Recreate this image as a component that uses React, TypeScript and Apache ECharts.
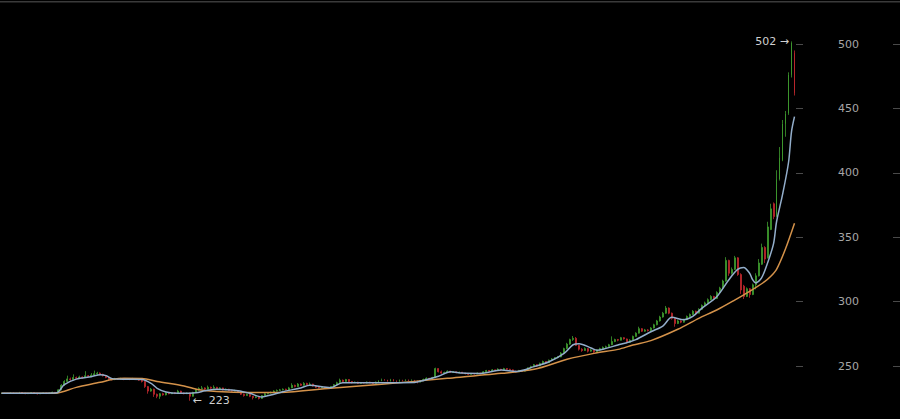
import React, { useEffect, useRef } from "react";
import * as echarts from "echarts";

// [open, close, low, high] per candle
const ohlc: number[][] = [
  [228.7, 229.0, 228.4, 229.3], [229.0, 228.6, 228.3, 229.2], [228.6, 228.8, 228.4, 229.1], [228.8, 229.2, 228.6, 229.6],
  [229.2, 228.7, 228.5, 229.4], [228.7, 228.9, 228.5, 229.2], [228.9, 229.4, 228.7, 229.9], [229.4, 229.0, 228.8, 229.6],
  [229.0, 228.5, 228.1, 229.2], [228.5, 228.8, 228.3, 229.0], [228.8, 229.3, 228.6, 229.6], [229.3, 228.9, 228.6, 229.5],
  [228.9, 228.4, 227.9, 229.0], [228.4, 228.8, 228.2, 229.0], [228.8, 229.1, 228.6, 229.4], [229.1, 228.6, 228.4, 229.3],
  [228.6, 229.0, 228.4, 229.3], [229.0, 229.6, 228.8, 230.1], [229.6, 229.2, 228.9, 229.8],
  [229.2, 231.5, 229.0, 232.0], [231.5, 235.0, 231.2, 236.0], [235.0, 238.0, 234.5, 239.0], [238.0, 240.0, 237.5, 242.5],
  [240.0, 239.5, 238.5, 241.0], [239.5, 241.0, 239.0, 243.5], [241.0, 240.5, 239.8, 241.8], [240.5, 241.5, 240.0, 242.5],
  [241.5, 241.0, 240.2, 242.0], [241.0, 242.5, 240.6, 246.0], [242.5, 242.0, 241.2, 243.0], [242.0, 243.0, 241.5, 244.5],
  [243.0, 244.0, 242.5, 246.4], [244.0, 244.5, 243.2, 245.5], [244.5, 243.5, 242.8, 245.0],
  [243.5, 242.5, 241.8, 244.0], [242.5, 241.0, 240.5, 243.0], [241.0, 240.0, 239.2, 241.5], [240.0, 239.5, 238.8, 240.6],
  [239.5, 240.0, 239.0, 240.8], [240.0, 239.8, 239.2, 240.5], [239.8, 240.2, 239.4, 240.9], [240.2, 239.5, 239.0, 240.6],
  [239.5, 240.0, 239.2, 240.5], [240.0, 239.6, 239.0, 240.4], [239.6, 240.3, 239.3, 240.8], [240.3, 239.8, 239.4, 240.6],
  [239.8, 239.0, 238.5, 240.2], [239.0, 238.0, 237.2, 239.4],
  [238.0, 234.0, 233.0, 238.4], [234.0, 230.5, 228.5, 234.5], [230.5, 232.0, 230.0, 233.0], [232.0, 228.0, 226.0, 232.4],
  [228.0, 226.5, 225.0, 228.6], [226.5, 228.5, 224.5, 229.0], [228.5, 227.5, 227.0, 229.2], [227.5, 229.0, 227.2, 229.6],
  [229.0, 228.5, 228.0, 229.4],
  [228.5, 229.2, 228.2, 229.6], [229.2, 228.6, 228.2, 229.5], [228.6, 230.5, 228.4, 231.5], [230.5, 229.0, 228.6, 230.8],
  [229.0, 228.5, 228.0, 229.4], [228.5, 229.0, 228.2, 229.5], [229.0, 226.5, 223.0, 229.3],
  [226.5, 229.5, 226.2, 230.0], [229.5, 231.5, 229.2, 232.2], [231.5, 232.5, 231.0, 233.5], [232.5, 233.0, 232.0, 234.5],
  [233.0, 232.0, 231.5, 233.5], [232.0, 233.5, 231.8, 234.8], [233.5, 232.8, 232.2, 234.0], [232.8, 233.5, 232.5, 235.0],
  [233.5, 232.5, 232.0, 233.8], [232.5, 233.0, 232.2, 233.6], [233.0, 231.5, 231.0, 233.2], [231.5, 232.0, 231.2, 232.6],
  [232.0, 231.0, 230.5, 232.3], [231.0, 230.5, 230.0, 231.5], [230.5, 231.0, 230.2, 231.6],
  [231.0, 229.5, 229.0, 231.3], [229.5, 228.0, 227.5, 229.8], [228.0, 227.0, 226.2, 228.5], [227.0, 228.0, 226.8, 228.6],
  [228.0, 226.5, 225.8, 228.3], [226.5, 225.5, 224.0, 226.8], [225.5, 226.0, 225.0, 226.6], [226.0, 224.8, 224.0, 226.2],
  [224.8, 227.0, 224.4, 227.5], [227.0, 228.5, 226.8, 229.0],
  [228.5, 229.0, 228.0, 229.6], [229.0, 229.5, 228.7, 230.2], [229.5, 230.5, 229.2, 231.2], [230.5, 231.0, 230.2, 231.8],
  [231.0, 231.5, 230.8, 232.2], [231.5, 232.0, 231.0, 232.6], [232.0, 231.5, 231.0, 232.4], [231.5, 233.0, 231.2, 233.8],
  [233.0, 235.0, 232.8, 236.6], [235.0, 234.0, 233.5, 235.5], [234.0, 236.0, 233.8, 236.8], [236.0, 235.0, 234.5, 236.5],
  [235.0, 236.5, 234.8, 237.5], [236.5, 235.5, 235.0, 237.0], [235.5, 236.0, 235.0, 237.2], [236.0, 234.5, 234.0, 236.2],
  [234.5, 233.5, 233.0, 234.8], [233.5, 233.0, 232.5, 233.8], [233.0, 233.5, 232.8, 234.0], [233.5, 232.8, 232.4, 233.8],
  [232.8, 233.2, 232.5, 233.7], [233.2, 234.0, 233.0, 234.5],
  [234.0, 235.5, 233.8, 236.0], [235.5, 237.0, 235.2, 237.8], [237.0, 239.0, 236.8, 240.2], [239.0, 238.0, 237.5, 239.5],
  [238.0, 239.5, 237.8, 240.0],
  [239.5, 238.0, 237.5, 239.8], [238.0, 237.0, 236.5, 238.3], [237.0, 237.5, 236.8, 238.0], [237.5, 236.5, 236.0, 237.8],
  [236.5, 237.2, 236.2, 237.6], [237.2, 236.8, 236.4, 237.5], [236.8, 237.5, 236.5, 238.0], [237.5, 237.0, 236.6, 237.8],
  [237.0, 236.5, 236.0, 237.3], [236.5, 237.5, 236.3, 238.0],
  [237.5, 238.5, 237.2, 239.0], [238.5, 239.5, 238.2, 240.2], [239.5, 239.0, 238.6, 239.8], [239.0, 238.2, 237.8, 239.3],
  [238.2, 239.5, 238.0, 240.0], [239.5, 238.5, 238.0, 239.8], [238.5, 238.0, 237.5, 238.8], [238.0, 239.0, 237.8, 239.5],
  [239.0, 238.5, 238.0, 239.3], [238.5, 239.2, 238.2, 239.7], [239.2, 238.6, 238.2, 239.5], [238.6, 239.0, 238.3, 239.6],
  [239.0, 238.5, 238.0, 239.2], [238.5, 237.5, 236.5, 238.8], [237.5, 238.5, 237.2, 239.0],
  [238.5, 239.5, 238.2, 240.2], [239.5, 240.5, 239.2, 241.2], [240.5, 240.0, 239.6, 240.8], [240.0, 241.0, 239.8, 241.6],
  [241.0, 248.0, 240.6, 248.7],
  [248.0, 245.5, 245.0, 248.2], [245.5, 244.5, 244.0, 246.5], [244.5, 245.0, 244.2, 245.6], [245.0, 246.0, 244.8, 246.6],
  [246.0, 245.0, 244.6, 246.3], [245.0, 245.5, 244.8, 246.0], [245.5, 244.8, 244.4, 245.8], [244.8, 245.2, 244.6, 245.7],
  [245.2, 244.5, 244.0, 245.4], [244.5, 244.0, 243.5, 244.8],
  [244.0, 243.5, 243.0, 244.3], [243.5, 244.2, 243.3, 244.6], [244.2, 243.8, 243.4, 244.5], [243.8, 244.5, 243.6, 245.0],
  [244.5, 244.0, 243.6, 244.8],
  [244.0, 245.5, 243.8, 246.0], [245.5, 246.5, 245.2, 247.0], [246.5, 246.0, 245.6, 246.8], [246.0, 247.0, 245.8, 247.6],
  [247.0, 246.5, 246.0, 247.3], [246.5, 247.5, 246.3, 248.2], [247.5, 247.0, 246.6, 247.8], [247.0, 248.0, 246.8, 248.6],
  [248.0, 247.5, 247.0, 248.3], [247.5, 247.0, 246.5, 247.8],
  [247.0, 246.0, 245.5, 247.3], [246.0, 245.5, 245.0, 246.4], [245.5, 246.5, 245.3, 247.0], [246.5, 246.0, 245.6, 246.8],
  [246.0, 247.0, 245.8, 247.5],
  [247.0, 248.5, 246.8, 249.0], [248.5, 249.5, 248.2, 250.2], [249.5, 251.0, 249.2, 251.6], [251.0, 250.0, 249.5, 251.4],
  [250.0, 252.0, 249.8, 252.6], [252.0, 253.5, 251.8, 254.2], [253.5, 252.5, 252.0, 253.8],
  [252.5, 254.5, 252.3, 255.0], [254.5, 255.5, 254.2, 256.2], [255.5, 256.5, 255.2, 257.0], [256.5, 257.0, 256.0, 257.8],
  [257.0, 260.0, 256.8, 260.8], [260.0, 263.5, 259.5, 264.2], [263.5, 267.0, 263.0, 268.0], [267.0, 270.5, 266.5, 271.2],
  [270.5, 271.5, 269.5, 273.3], [271.5, 266.0, 265.5, 272.5], [266.0, 263.0, 262.0, 266.5],
  [263.0, 262.0, 261.0, 263.8], [262.0, 263.5, 261.8, 264.5], [263.5, 261.5, 260.5, 263.8], [261.5, 262.5, 261.0, 263.2],
  [262.5, 261.0, 260.2, 262.8],
  [261.0, 262.5, 260.8, 263.0], [262.5, 263.5, 262.0, 264.2], [263.5, 264.5, 263.2, 265.2], [264.5, 265.0, 264.0, 265.8],
  [265.0, 266.5, 264.8, 267.2],
  [266.5, 269.0, 266.2, 273.0], [269.0, 270.5, 268.5, 271.2], [270.5, 270.0, 269.2, 271.0], [270.0, 272.0, 269.8, 272.6],
  [272.0, 271.0, 270.5, 272.4],
  [271.0, 268.5, 268.0, 271.3], [268.5, 270.0, 268.2, 270.8], [270.0, 273.0, 269.8, 273.6], [273.0, 275.5, 272.8, 276.2],
  [275.5, 279.0, 275.2, 280.5], [279.0, 277.0, 276.5, 279.4], [277.0, 278.0, 276.6, 278.8], [278.0, 277.5, 276.8, 278.6],
  [277.5, 279.5, 277.0, 280.2], [279.5, 282.0, 279.2, 282.8], [282.0, 285.0, 281.6, 285.8], [285.0, 288.0, 284.5, 289.0],
  [288.0, 291.0, 287.5, 292.0], [291.0, 295.0, 290.5, 296.6],
  [295.0, 291.0, 290.2, 295.5], [291.0, 287.0, 286.0, 291.5], [287.0, 283.0, 280.5, 287.4], [283.0, 285.0, 282.5, 286.0],
  [285.0, 284.0, 283.2, 285.6], [284.0, 286.0, 283.6, 286.8],
  [286.0, 288.5, 285.6, 289.2], [288.5, 290.0, 288.0, 290.8], [290.0, 292.5, 289.6, 293.4], [292.5, 291.0, 290.2, 293.0],
  [291.0, 294.0, 290.8, 294.8], [294.0, 297.0, 293.6, 297.8], [297.0, 299.0, 296.5, 300.0],
  [299.0, 301.5, 298.6, 302.5], [301.5, 304.0, 301.0, 305.0], [304.0, 302.5, 301.5, 304.5], [302.5, 307.0, 302.0, 308.0],
  [307.0, 310.5, 306.5, 311.5], [310.5, 316.0, 310.0, 317.0],
  [316.0, 332.0, 315.5, 334.5], [332.0, 322.0, 320.0, 332.5], [322.0, 325.0, 321.0, 326.5], [325.0, 334.0, 324.5, 335.5],
  [334.0, 321.0, 320.0, 334.5],
  [321.0, 309.0, 306.0, 322.0], [312.0, 304.0, 302.0, 313.0], [304.0, 310.0, 303.5, 311.0], [310.0, 305.5, 303.0, 310.5],
  [305.5, 313.0, 305.0, 314.0],
  [313.0, 320.0, 309.5, 322.0], [320.0, 330.0, 319.5, 333.0], [329.0, 342.0, 328.5, 345.0], [342.0, 333.0, 330.0, 343.0],
  [334.0, 358.0, 333.5, 362.0], [356.0, 372.0, 355.5, 376.0], [376.0, 366.0, 364.0, 377.0], [366.0, 395.0, 365.5, 402.0],
  [395.0, 412.0, 394.0, 420.0], [410.0, 438.0, 409.0, 441.0], [438.0, 446.0, 428.0, 448.0], [446.0, 476.0, 445.0, 478.0],
  [476.0, 501.0, 474.0, 502.0], [493.0, 462.0, 460.0, 495.0],
];

// short moving average, read at [candle index, value]
const maFast: number[][] = [
  [0, 228.8], [10, 228.8], [18, 229.0], [19, 229.8], [21, 235.5], [25, 239.8], [30, 241.7], [33, 243.3],
  [35, 242.5], [37, 240.2], [42, 239.7], [47, 239.5], [50, 236.5], [52, 232.7], [55, 229.8], [59, 228.8],
  [65, 229.2], [68, 230.8], [72, 232.0], [79, 230.8], [83, 228.8], [87, 226.0], [90, 227.5], [94, 230.0],
  [100, 233.0], [103, 235.0], [110, 233.2], [114, 237.0], [121, 237.0], [138, 237.2], [141, 238.8],
  [146, 242.0], [150, 245.5], [154, 244.5], [160, 244.2], [167, 246.8], [172, 245.8], [178, 249.5],
  [183, 253.3], [188, 259.8], [191, 266.5], [193, 267.3], [197, 264.0], [199, 262.2], [202, 263.7],
  [206, 266.3], [209, 268.1], [212, 270.5], [217, 276.6], [221, 281.0], [224, 287.8], [228, 286.0],
  [231, 288.5], [234, 294.8], [239, 303.8], [243, 316.8], [246, 325.0], [248, 326.5], [250, 322.0],
  [251, 317.0], [252, 314.5], [254, 318.5], [256, 330.0], [258, 345.0], [259, 362.0], [261, 383.0],
  [263, 408.0], [264, 432.0], [265, 443.6],
];

// long moving average, read at [candle index, value]
const maSlow: number[][] = [
  [0, 228.9], [18, 228.9], [25, 233.4], [33, 237.3], [37, 239.5], [41, 240.4], [47, 240.3], [52, 238.0],
  [61, 234.5], [66, 231.6], [72, 230.2], [83, 229.5], [93, 229.5], [110, 232.7], [127, 235.8], [149, 240.4],
  [167, 244.3], [178, 247.4], [189, 255.2], [198, 259.8], [206, 262.9], [211, 266.3], [217, 269.7],
  [226, 278.5], [233, 287.0], [239, 293.5], [245, 301.2], [250, 308.0], [255, 315.5], [257, 319.5],
  [259, 325.0], [262, 341.0], [265, 360.8],
];

const yMin = 200;
const yMax = 550;
const yStep = 50;
const yShown = [250, 300, 350, 400, 450, 500];

export default function App() {
  const ref = useRef<HTMLDivElement>(null);

  useEffect(() => {
    document.body.style.margin = "0";
    document.body.style.background = "#000";
    const chart = echarts.init(ref.current!, null, { renderer: "svg" });
    const cats = ohlc.map((_, i) => String(i));
    const font = "DejaVu Sans";
    const yBase = {
      type: "value",
      position: "right",
      min: yMin,
      max: yMax,
      interval: yStep,
      splitLine: { show: false },
      axisLine: { show: false },
      axisTick: { show: true, length: 7, lineStyle: { color: "#4a4a4a", width: 1 } },
    };
    chart.setOption({
      animation: false,
      backgroundColor: "#000",
      grid: {
        left: 0,
        right: 104,
        top: -20.4,
        height: 450.8,
        containLabel: false,
        outerBoundsMode: "none",
      },
      xAxis: { type: "category", data: cats, show: false, boundaryGap: true },
      yAxis: [
        {
          ...yBase,
          axisLabel: {
            color: "#a6a6a6",
            fontSize: 11,
            fontFamily: font,
            margin: 42,
            formatter: (v: number) => (yShown.includes(v) ? String(v) : ""),
          },
        },
        {
          ...yBase,
          offset: 97,
          axisLabel: { show: false },
        },
      ],
      graphic: [
        {
          type: "rect",
          shape: { x: 0, y: 1, width: 900, height: 1.4 },
          style: { fill: "#3a3a3a" },
        },
      ],
      series: [
        {
          type: "candlestick",
          data: ohlc,
          barWidth: 1.4,
          itemStyle: {
            color: "#3f9c2f",
            color0: "#c0282d",
            borderColor: "#3f9c2f",
            borderColor0: "#c0282d",
            borderWidth: 0.8,
          },
          markPoint: {
            symbol: "rect",
            symbolSize: 1,
            itemStyle: { color: "rgba(0,0,0,0)" },
            label: { show: true, color: "#d0d0d0", fontSize: 11, fontFamily: font },
            data: [
              {
                type: "max",
                valueDim: "highest",
                label: {
                  position: "left",
                  distance: 2,
                  formatter: (p: any) => `${Math.round(p.value)} →`,
                },
              },
              {
                type: "min",
                valueDim: "lowest",
                label: {
                  position: "right",
                  distance: 2,
                  formatter: (p: any) => `←  ${Math.round(p.value)}`,
                },
              },
            ],
          },
        },
        {
          type: "line",
          data: maSlow,
          smooth: 0.3,
          symbol: "none",
          lineStyle: { color: "#d4924a", width: 1.5 },
        },
        {
          type: "line",
          data: maFast,
          smooth: 0.3,
          symbol: "none",
          lineStyle: { color: "#93aecb", width: 1.5 },
        },
      ],
    });
    return () => chart.dispose();
  }, []);

  return <div ref={ref} style={{ width: 900, height: 419, background: "#000" }} />;
}
